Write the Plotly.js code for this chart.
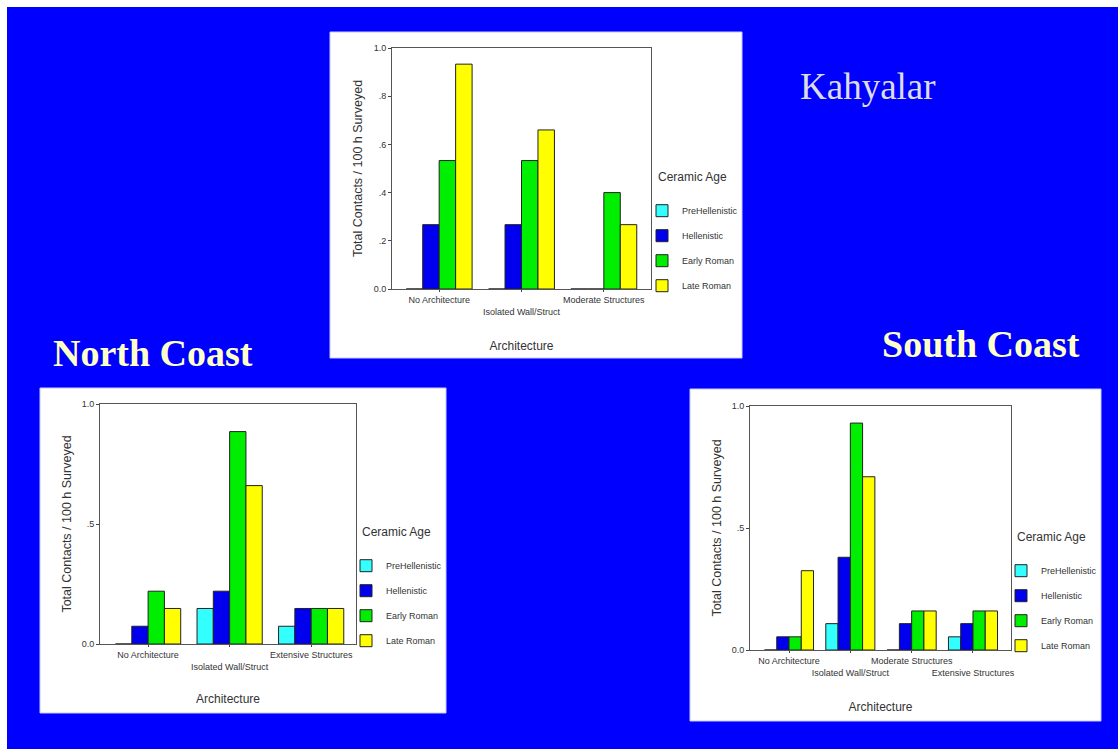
<!DOCTYPE html>
<html>
<head>
<meta charset="utf-8">
<script src="https://cdn.plot.ly/plotly-3.0.1.min.js"></script>
<style>html,body{margin:0;padding:0;background:#fff}#chart{width:1118px;height:749px}</style>
</head>
<body>
<div id="chart"></div>
<script>
// ---------- data ----------
const ageNames = ["PreHellenistic", "Hellenistic", "Early Roman", "Late Roman"];

const kahCats  = ["No Architecture", "Isolated Wall/Struct", "Moderate Structures"];
const kahPre   = [0, 0, 0];
const kahHel   = [0.267, 0.267, 0];
const kahEarly = [0.533, 0.533, 0.40];
const kahLate  = [0.933, 0.66, 0.267];

const norCats  = ["No Architecture", "Isolated Wall/Struct", "Extensive Structures"];
const norPre   = [0, 0.148, 0.074];
const norHel   = [0.074, 0.22, 0.148];
const norEarly = [0.22, 0.885, 0.148];
const norLate  = [0.148, 0.66, 0.148];

const souCats  = ["No Architecture", "Isolated Wall/Struct", "Moderate Structures", "Extensive Structures"];
const souPre   = [0, 0.108, 0, 0.054];
const souHel   = [0.054, 0.38, 0.108, 0.108];
const souEarly = [0.054, 0.93, 0.16, 0.16];
const souLate  = [0.325, 0.71, 0.16, 0.16];

const yTicks10   = [0, 0.2, 0.4, 0.6, 0.8, 1.0];
const yLabels10  = ["0.0", ".2", ".4", ".6", ".8", "1.0"];
const yTicks05   = [0, 0.5, 1.0];
const yLabels05  = ["0.0", ".5", "1.0"];

const yTitle = "Total Contacts / 100 h Surveyed";
const xTitle = "Architecture";
const legTitle = "Ceramic Age";

// ---------- style / layout helpers ----------
const W = 1118, H = 749;
const px = v => v / W;
const py = v => 1 - v / H;
const barColors = ["#33ffff", "#0000ee", "#00ee00", "#ffff00"];
const sans = "Liberation Sans, Arial, sans-serif";
const serif = "Liberation Serif, Times New Roman, serif";
const txt = "#333333";

function makeTraces(cats, series, xa, ya, leg, grp) {
  return series.map((vals, i) => ({
    type: "bar", x: cats, y: vals, name: ageNames[i],
    xaxis: xa, yaxis: ya, legend: leg, legendgroup: grp + i,
    marker: {color: barColors[i], line: {color: "#222", width: 1}},
    hoverinfo: "x+y+name"
  }));
}

const data = [].concat(
  makeTraces(kahCats, [kahPre, kahHel, kahEarly, kahLate], "x", "y", "legend", "k"),
  makeTraces(norCats, [norPre, norHel, norEarly, norLate], "x2", "y2", "legend2", "n"),
  makeTraces(souCats, [souPre, souHel, souEarly, souLate], "x3", "y3", "legend3", "s")
);

// staggered category labels: odd categories drop to a second row
function xAx(cats, dom, rng, anchor, standoff) {
  return {
    domain: dom, anchor: anchor, type: "category", range: rng,
    tickmode: "array", tickvals: cats,
    ticktext: cats.map((c, i) => i % 2 === 0 ? c : "<br>" + c),
    ticks: "outside", ticklen: 2, tickcolor: "#444", tickangle: 0,
    tickfont: {family: sans, size: 9, color: txt},
    showline: true, mirror: true, linecolor: "#555", linewidth: 1,
    showgrid: false, zeroline: false, fixedrange: true,
    title: {text: xTitle, font: {family: sans, size: 12, color: txt}, standoff: standoff}
  };
}
function yAx(dom, anchor, tv, tt, standoff) {
  return {
    domain: dom, anchor: anchor, range: [0, 1.0],
    tickmode: "array", tickvals: tv, ticktext: tt,
    ticks: "outside", ticklen: 3, tickcolor: "#444",
    tickfont: {family: sans, size: 9, color: txt},
    showline: true, mirror: true, linecolor: "#555", linewidth: 1,
    showgrid: false, zeroline: false, fixedrange: true,
    title: {text: yTitle, font: {family: sans, size: 12.5, color: txt}, standoff: standoff}
  };
}
function legend(x, y) {
  return {
    x: px(x), y: py(y), xanchor: "left", yanchor: "top",
    bgcolor: "rgba(0,0,0,0)", borderwidth: 0, traceorder: "grouped",
    tracegroupgap: 6,
    font: {family: sans, size: 9, color: txt},
    title: {text: legTitle + "<br> ", side: "top center", font: {family: sans, size: 12, color: txt}}
  };
}

const kahRange = [-0.573, 2.573];
const norRange = [-0.59, 2.55];
const souRange = [-0.636, 3.62];

const layout = {
  width: W, height: H,
  margin: {l: 0, r: 0, t: 0, b: 0, pad: 0},
  paper_bgcolor: "#ffffff", plot_bgcolor: "#ffffff",
  barmode: "group", bargap: 0.2, bargroupgap: 0,
  showlegend: true,
  font: {family: sans, color: txt},
  xaxis:  xAx(kahCats, [px(392), px(651)], kahRange, "y", 26),
  yaxis:  yAx([py(289), py(48)], "x", yTicks10, yLabels10, 8),
  xaxis2: xAx(norCats, [px(100), px(356)], norRange, "y2", 24),
  yaxis2: yAx([py(644), py(404)], "x2", yTicks05, yLabels05, 7),
  xaxis3: xAx(souCats, [px(750), px(1011)], souRange, "y3", 26),
  yaxis3: yAx([py(650), py(406)], "x3", yTicks05, yLabels05, 7),
  legend:  legend(642, 165),
  legend2: legend(346, 520),
  legend3: legend(1001, 525),
  shapes: [
    {type: "rect", xref: "paper", yref: "paper", x0: px(7), x1: 1, y0: 0, y1: py(7), fillcolor: "#0000ff", line: {width: 0}, layer: "below"},
    {type: "rect", xref: "paper", yref: "paper", x0: px(330), x1: px(742), y0: py(358), y1: py(32), fillcolor: "#ffffff", line: {color: "#c8c8ff", width: 1}, layer: "below"},
    {type: "rect", xref: "paper", yref: "paper", x0: px(40), x1: px(446), y0: py(713), y1: py(388), fillcolor: "#ffffff", line: {color: "#c8c8ff", width: 1}, layer: "below"},
    {type: "rect", xref: "paper", yref: "paper", x0: px(690), x1: px(1101), y0: py(721), y1: py(389), fillcolor: "#ffffff", line: {color: "#c8c8ff", width: 1}, layer: "below"}
  ],
  annotations: [
    {text: "Kahyalar", xref: "paper", yref: "paper", x: px(868), y: py(86), xanchor: "center", yanchor: "middle", showarrow: false,
     font: {family: serif, size: 37, color: "#dcdce4"}},
    {text: "<b>North Coast</b>", xref: "paper", yref: "paper", x: px(153), y: py(353), xanchor: "center", yanchor: "middle", showarrow: false,
     font: {family: serif, size: 38, color: "#ffffc8"}},
    {text: "<b>South Coast</b>", xref: "paper", yref: "paper", x: px(981), y: py(344), xanchor: "center", yanchor: "middle", showarrow: false,
     font: {family: serif, size: 38, color: "#ffffc8"}}
  ]
};

Plotly.newPlot("chart", data, layout, {displayModeBar: false, staticPlot: true});
</script>
</body>
</html>
